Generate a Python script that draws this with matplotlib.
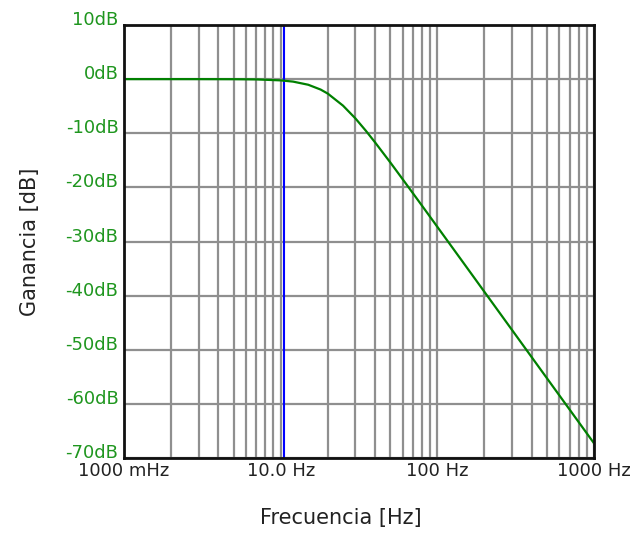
import numpy as np
import matplotlib
matplotlib.use("Agg")
import matplotlib.pyplot as plt
from matplotlib.ticker import LogLocator, NullFormatter

# Respuesta en magnitud
freq = [1, 2, 3, 5, 7, 10, 12, 15, 18, 20, 25, 30, 35, 40, 50, 60, 70, 80,
        100, 150, 200, 300, 400, 500, 700, 1000]
gain = [0.0, 0.0, -0.002, -0.015, -0.055, -0.23, -0.46, -1.04, -1.93, -2.68,
        -4.9, -7.26, -9.55, -11.67, -15.36, -18.47, -21.12, -23.42,
        -27.29, -34.32, -39.32, -46.36, -51.36, -55.24, -61.08, -67.28]

cursor_f = 10.5

xticks = [1, 10, 100, 1000]
xlabels = ["1000 mHz", "10.0 Hz", "100 Hz", "1000 Hz"]
yticks = [10, 0, -10, -20, -30, -40, -50, -60, -70]
ylabels = ["%ddB" % v for v in yticks]

plt.rcParams['font.family'] = ['DejaVu Sans']

fig = plt.figure(figsize=(6.33, 5.33), dpi=100)
ax = fig.add_axes([124/633, 1-458/533, 470/633, 433/533])

ax.set_xscale('log')
ax.set_xlim(1, 1000)
ax.set_ylim(-70, 10)

ax.xaxis.set_minor_locator(LogLocator(base=10, subs=np.arange(2, 10)))
ax.xaxis.set_minor_formatter(NullFormatter())
ax.set_xticks(xticks)
ax.set_xticklabels(xlabels, fontsize=13, color='#222222')
ax.set_yticks(yticks)
ax.set_yticklabels(ylabels, fontsize=13, color='#1f961f')
for lab in ax.get_yticklabels():
    lab.set_va('baseline')

ax.tick_params(which='both', length=0)
ax.tick_params(axis='x', pad=3)
ax.tick_params(axis='y', pad=4)

ax.grid(True, which='major', color='#8f8f8f', lw=1.6)
ax.grid(True, which='minor', axis='x', color='#8f8f8f', lw=1.6)
ax.set_axisbelow(True)

for s in ax.spines.values():
    s.set_color('#111111')
    s.set_linewidth(2)

ax.axvline(cursor_f, color='#0000ff', lw=1.5)
ax.plot(freq, gain, color='#008000', lw=1.6)

fig.text(30/633, 1-242/533, "Ganancia [dB]", rotation=90, ha='center', va='center',
         fontsize=15, color='#222222')
fig.text(341/633, 1-518/533, "Frecuencia [Hz]", ha='center', va='center',
         fontsize=15, color='#222222')

fig.savefig("out.png", dpi=100)
